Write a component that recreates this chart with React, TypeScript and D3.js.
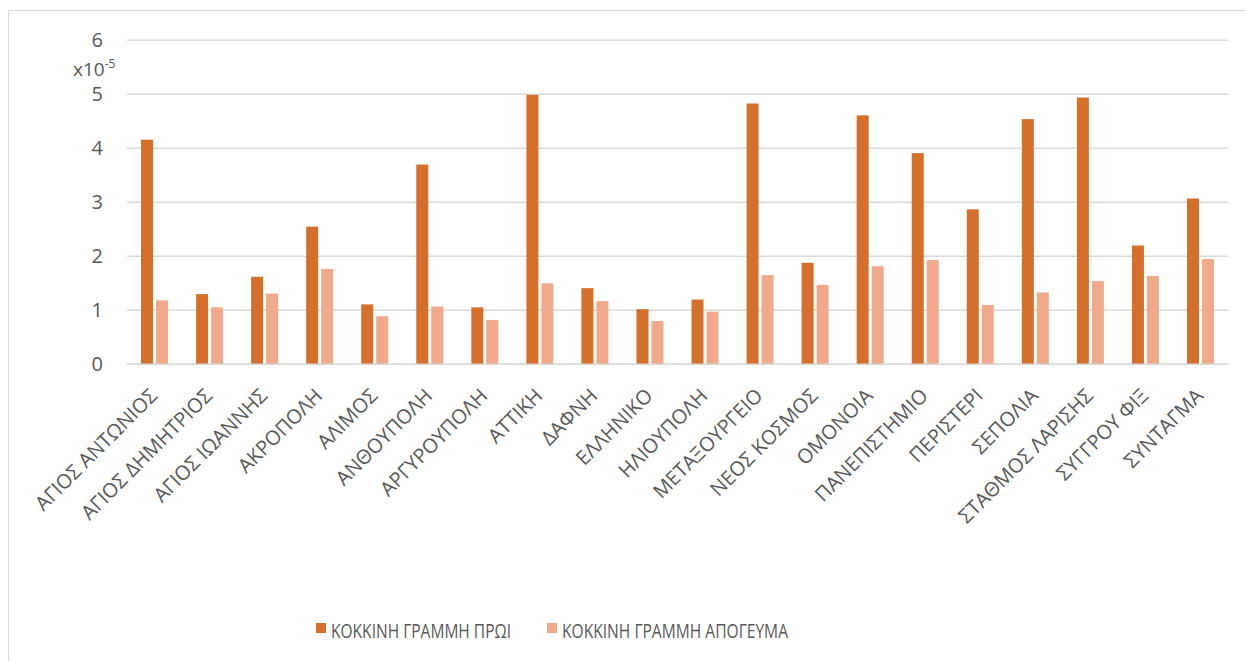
import React from "react";
import * as d3 from "d3";

const categories = [
  "ΑΓΙΟΣ ΑΝΤΩΝΙΟΣ", "ΑΓΙΟΣ ΔΗΜΗΤΡΙΟΣ", "ΑΓΙΟΣ ΙΩΑΝΝΗΣ", "ΑΚΡΟΠΟΛΗ", "ΑΛΙΜΟΣ",
  "ΑΝΘΟΥΠΟΛΗ", "ΑΡΓΥΡΟΥΠΟΛΗ", "ΑΤΤΙΚΗ", "ΔΑΦΝΗ", "ΕΛΛΗΝΙΚΟ",
  "ΗΛΙΟΥΠΟΛΗ", "ΜΕΤΑΞΟΥΡΓΕΙΟ", "ΝΕΟΣ ΚΟΣΜΟΣ", "ΟΜΟΝΟΙΑ", "ΠΑΝΕΠΙΣΤΗΜΙΟ",
  "ΠΕΡΙΣΤΕΡΙ", "ΣΕΠΟΛΙΑ", "ΣΤΑΘΜΟΣ ΛΑΡΙΣΗΣ", "ΣΥΓΓΡΟΥ ΦΙΞ", "ΣΥΝΤΑΓΜΑ",
];

// values in units of 1e-5
const morning = [4.16, 1.30, 1.62, 2.55, 1.11, 3.70, 1.055, 4.99, 1.41, 1.02, 1.20, 4.83, 1.88, 4.61, 3.91, 2.87, 4.54, 4.94, 2.20, 3.07];
const afternoon = [1.185, 1.055, 1.31, 1.765, 0.89, 1.07, 0.82, 1.50, 1.17, 0.80, 0.975, 1.65, 1.47, 1.815, 1.93, 1.10, 1.33, 1.54, 1.635, 1.95];

const seriesNames = ["ΚΟΚΚΙΝΗ ΓΡΑΜΜΗ ΠΡΩΙ", "ΚΟΚΚΙΝΗ ΓΡΑΜΜΗ ΑΠΟΓΕΥΜΑ"];
const yTicks = [0, 1, 2, 3, 4, 5, 6];

const COLORS = ["#D4702C", "#F0A98B"];
const TEXT = "#595959";
const GRID = "#D9D9D9";
const FONT = "'Open Sans', 'Noto Sans', sans-serif";

export default function App() {
  const W = 1246, H = 661;
  const left = 127, right = 1228, top = 40.3, bottom = 364.3;

  const x = d3.scaleBand<string>().domain(categories).range([left, right]);
  const y = d3.scaleLinear().domain([0, 6]).range([bottom, top]);
  const barW = 12, gap = 3;

  return (
    <svg width={W} height={H} style={{ position: "absolute", left: 0, top: 0, display: "block" }} fontFamily={FONT}>
      <rect x={0} y={0} width={W} height={H} fill="#fff" />
      <rect x={8.5} y={10.5} width={1300} height={700} fill="none" stroke={GRID} strokeWidth={1} />
      {yTicks.map((t) => (
        <g key={t}>
          <line x1={left} x2={right} y1={y(t)} y2={y(t)} stroke={GRID} strokeWidth={1.5} />
          <text x={103} y={y(t)} dy="0.35em" textAnchor="end" fontSize={20} fill={TEXT}>{t}</text>
        </g>
      ))}
      <text x={73} y={76} fontSize={19} fill={TEXT}>
        x10<tspan dy={-8} fontSize={12}>-5</tspan>
      </text>
      {categories.map((c, i) => {
        const cx = (x(c) as number) + x.bandwidth() / 2;
        return (
          <g key={c}>
            <rect x={cx - gap / 2 - barW} y={y(morning[i])} width={barW} height={bottom - y(morning[i])} fill={COLORS[0]} />
            <rect x={cx + gap / 2} y={y(afternoon[i])} width={barW} height={bottom - y(afternoon[i])} fill={COLORS[1]} />
            <text transform={`translate(${cx + 4},${397}) rotate(-45)`} textAnchor="end" fontSize={20} fill={TEXT}>{c}</text>
          </g>
        );
      })}
      <line x1={left} x2={right} y1={bottom} y2={bottom} stroke={GRID} strokeWidth={1.5} />
      <g>
        <rect x={316} y={623} width={10} height={10} fill={COLORS[0]} />
        <text x={331} y={638} fontSize={20} fill={TEXT} textLength={180} lengthAdjust="spacingAndGlyphs">{seriesNames[0]}</text>
        <rect x={547} y={623} width={10} height={10} fill={COLORS[1]} />
        <text x={562} y={638} fontSize={20} fill={TEXT} textLength={226} lengthAdjust="spacingAndGlyphs">{seriesNames[1]}</text>
      </g>
    </svg>
  );
}
